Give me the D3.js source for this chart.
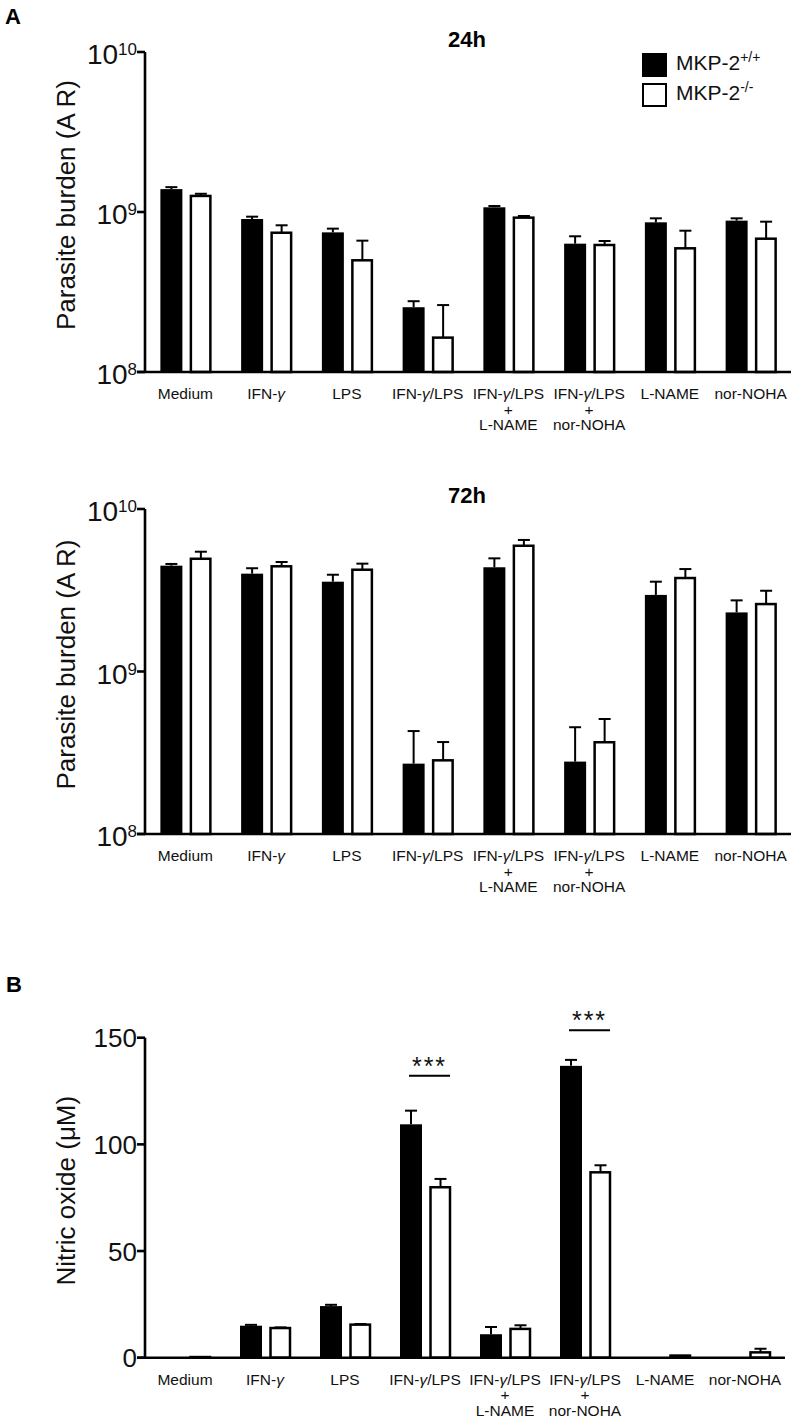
<!DOCTYPE html>
<html>
<head>
<meta charset="utf-8">
<script src="https://cdn.jsdelivr.net/npm/d3@7"></script>
<style>
  html, body { margin: 0; padding: 0; background: #fff; }
  svg { display: block; font-family: "Liberation Sans", Arial, sans-serif; }
</style>
</head>
<body>
<svg id="chart" width="799" height="1428"></svg>
<script>
// ---------- DATA ----------
const categories = ["Medium", "IFN-γ", "LPS", "IFN-γ/LPS", "IFN-γ/LPS + L-NAME", "IFN-γ/LPS + nor-NOHA", "L-NAME", "nor-NOHA"];
const categoryLines = [["Medium"], ["IFN-γ"], ["LPS"], ["IFN-γ/LPS"], ["IFN-γ/LPS", "+", "L-NAME"], ["IFN-γ/LPS", "+", "nor-NOHA"], ["L-NAME"], ["nor-NOHA"]];
const seriesNames = ["MKP-2", "MKP-2"];
const seriesSup = ["+/+", "-/-"];

// 24h parasite burden (mean, and upper end of error bar)
const wt24 = [1.39e9, 9.04e8, 7.46e8, 2.54e8, 1.07e9, 6.34e8, 8.62e8, 8.83e8];
const wt24Upper = [1.43e9, 9.35e8, 7.87e8, 2.77e8, 1.09e9, 7.05e8, 9.13e8, 9.13e8];
const ko24 = [1.26e9, 7.42e8, 4.99e8, 1.64e8, 9.22e8, 6.22e8, 5.93e8, 6.81e8];
const ko24Upper = [1.30e9, 8.26e8, 6.62e8, 2.62e8, 9.44e8, 6.59e8, 7.64e8, 8.70e8];

// 72h parasite burden
const wt72 = [4.48e9, 4.00e9, 3.57e9, 2.71e8, 4.38e9, 2.79e8, 2.96e9, 2.31e9];
const wt72Upper = [4.59e9, 4.32e9, 3.94e9, 4.30e8, 4.97e9, 4.54e8, 3.57e9, 2.74e9];
const ko72 = [4.94e9, 4.44e9, 4.23e9, 2.84e8, 5.94e9, 3.67e8, 3.76e9, 2.60e9];
const ko72Upper = [5.46e9, 4.72e9, 4.61e9, 3.68e8, 6.45e9, 5.10e8, 4.27e9, 3.14e9];

// Nitric oxide (µM)
const wtNO = [0, 15.0, 24.2, 109.4, 11.0, 136.8, 0, 0];
const wtNOUpper = [0, 15.4, 24.8, 115.8, 14.4, 139.6, 0, 0];
const koNO = [0.3, 13.9, 15.5, 79.9, 13.5, 86.9, 1.0, 2.5];
const koNOUpper = [0.3, 14.2, 15.8, 83.8, 15.2, 90.2, 1.0, 4.2];

const logTicks = [1e8, 1e9, 1e10];
const logTickExp = ["8", "9", "10"];
const linTicks = [0, 50, 100, 150];

// significance annotations: category, value level of the line
const sigCats = ["IFN-γ/LPS", "IFN-γ/LPS + nor-NOHA"];
const sigLevels = [132.2, 153.5];
const sigText = "***";

// ---------- DRAW ----------
const svg = d3.select("#chart");
const FONT = '"Liberation Sans", Arial, sans-serif';

function addLabelLine(tspanParent, text) {
  // italic gamma like the Symbol-font glyph in the original
  const parts = text.split("γ");
  parts.forEach((p, k) => {
    if (p) tspanParent.append("tspan").text(p);
    if (k < parts.length - 1) tspanParent.append("tspan").attr("font-style", "italic").text("γ");
  });
}

function drawPanel(opts) {
  const { x0, x1, yTop, yBot, yScale, wt, wtUp, ko, koUp, ticksFn, yTitle, titleText } = opts;
  const x = d3.scaleBand().domain(categories).range([x0, x1]).padding(0);
  const g = svg.append("g");
  const barW = 22;
  const cx = c => x(c) + x.bandwidth() / 2;
  const y0 = yScale.range()[0];

  const data = categories.map((c, i) => ({ c, wt: wt[i], wtUp: wtUp[i], ko: ko[i], koUp: koUp[i] }));
  const errs = [];
  data.forEach(d => {
    errs.push({ xc: cx(d.c) - 14, v: d.wt, up: d.wtUp });
    errs.push({ xc: cx(d.c) + 15.5, v: d.ko, up: d.koUp });
  });
  const eg = g.append("g").attr("stroke", "#000").attr("stroke-width", 2);
  errs.filter(e => e.up > e.v).forEach(e => {
    eg.append("line").attr("x1", e.xc).attr("x2", e.xc).attr("y1", yScale(e.v)).attr("y2", yScale(e.up));
    eg.append("line").attr("x1", e.xc - 6).attr("x2", e.xc + 6).attr("y1", yScale(e.up)).attr("y2", yScale(e.up));
  });

  g.append("g").selectAll("rect").data(data.filter(d => yScale(d.wt) < y0)).join("rect")
    .attr("x", d => cx(d.c) - 25)
    .attr("width", barW)
    .attr("y", d => yScale(d.wt))
    .attr("height", d => y0 - yScale(d.wt))
    .attr("fill", "#000");

  g.append("g").selectAll("rect").data(data.filter(d => yScale(d.ko) < y0)).join("rect")
    .attr("x", d => cx(d.c) + 5.5)
    .attr("width", barW - 2.5)
    .attr("y", d => yScale(d.ko))
    .attr("height", d => Math.max(0, y0 - yScale(d.ko)))
    .attr("fill", "#fff")
    .attr("stroke", "#000")
    .attr("stroke-width", 2.5);

  // y axis
  const axG = g.append("g").attr("transform", `translate(${x0},0)`);
  axG.append("line").attr("x1", 0).attr("x2", 0).attr("y1", yTop).attr("y2", yBot)
    .attr("stroke", "#000").attr("stroke-width", 2.6);
  ticksFn(axG);

  // x axis
  g.append("line").attr("x1", x0 - 8).attr("x2", x1).attr("y1", yBot).attr("y2", yBot)
    .attr("stroke", "#000").attr("stroke-width", 2.6);

  // category labels
  const lab = g.append("g").attr("font-family", FONT).attr("font-size", 15.5).attr("text-anchor", "middle").attr("fill", "#111");
  categories.forEach((c, i) => {
    categoryLines[i].forEach((ln, j) => {
      const t = lab.append("text").attr("x", cx(c)).attr("y", yBot + 27 + j * 15.5);
      addLabelLine(t, ln);
    });
  });

  // y title
  g.append("text").attr("transform", `translate(75,${(yTop + yBot) / 2 - 7}) rotate(-90)`)
    .attr("text-anchor", "middle").attr("font-family", FONT).attr("font-size", 26).attr("fill", "#111")
    .text(yTitle);

  if (titleText) {
    g.append("text").attr("x", 448).attr("y", titleText.y).attr("font-family", FONT)
      .attr("font-weight", "bold").attr("font-size", 22).attr("fill", "#000").text(titleText.t);
  }
  return { x, cx, g };
}

function logTickFn(yScale) {
  return axG => {
    logTicks.forEach((v, i) => {
      const yy = yScale(v);
      axG.append("line").attr("x1", -8).attr("x2", 0).attr("y1", yy).attr("y2", yy)
        .attr("stroke", "#000").attr("stroke-width", 2.6);
      const t = axG.append("text").attr("x", -8).attr("y", yy + 12).attr("text-anchor", "end")
        .attr("font-family", FONT).attr("fill", "#111");
      t.append("tspan").attr("font-size", 28).text("10");
      t.append("tspan").attr("font-size", 17).attr("dy", -9).text(logTickExp[i]);
    });
  };
}

// Panel A 24h
const y24 = d3.scaleLog().domain([1e8, 1e10]).range([372, 52]);
drawPanel({ x0: 145, x1: 791, yTop: 52, yBot: 372, yScale: y24, wt: wt24, wtUp: wt24Upper, ko: ko24, koUp: ko24Upper,
  ticksFn: logTickFn(y24), yTitle: "Parasite burden (A R)", titleText: { t: "24h", y: 47 } });

// Panel A 72h
const y72 = d3.scaleLog().domain([1e8, 1e10]).range([834, 509]);
drawPanel({ x0: 145, x1: 791, yTop: 509, yBot: 834, yScale: y72, wt: wt72, wtUp: wt72Upper, ko: ko72, koUp: ko72Upper,
  ticksFn: logTickFn(y72), yTitle: "Parasite burden (A R)", titleText: { t: "72h", y: 503 } });

// Panel B
const yNO = d3.scaleLinear().domain([0, 150]).range([1357.7, 1037.7]);
const pB = drawPanel({ x0: 145, x1: 785, yTop: 1037.7, yBot: 1357.7, yScale: yNO, wt: wtNO, wtUp: wtNOUpper, ko: koNO, koUp: koNOUpper,
  ticksFn: axG => {
    linTicks.forEach(v => {
      const yy = yNO(v);
      axG.append("line").attr("x1", -8).attr("x2", 0).attr("y1", yy).attr("y2", yy)
        .attr("stroke", "#000").attr("stroke-width", 2.6);
      axG.append("text").attr("x", -8).attr("y", yy + 9.5).attr("text-anchor", "end")
        .attr("font-family", FONT).attr("font-size", 26).attr("fill", "#111").text(v);
    });
  }, yTitle: "Nitric oxide (μM)", titleText: null });

// significance
sigCats.forEach((c, i) => {
  const xc = pB.cx(c);
  const yy = yNO(sigLevels[i]);
  svg.append("line").attr("x1", xc - 16).attr("x2", xc + 25).attr("y1", yy).attr("y2", yy)
    .attr("stroke", "#000").attr("stroke-width", 2);
  svg.append("text").attr("x", xc + 4.5).attr("y", yy - 1).attr("text-anchor", "middle")
    .attr("font-family", FONT).attr("font-size", 25).attr("letter-spacing", 2).attr("fill", "#111").text(sigText);
});

// Legend
const legY = [53, 83];
const legend = svg.append("g");
legY.forEach((yy, i) => {
  legend.append("rect").attr("x", i === 0 ? 642 : 643).attr("y", i === 0 ? yy : yy + 1)
    .attr("width", i === 0 ? 25 : 23).attr("height", i === 0 ? 24 : 22)
    .attr("fill", i === 0 ? "#000" : "#fff").attr("stroke", "#000").attr("stroke-width", i === 0 ? 0 : 2);
  const t = legend.append("text").attr("x", 676).attr("y", yy + 17).attr("font-family", FONT)
    .attr("font-size", 21).attr("fill", "#111");
  t.append("tspan").text(seriesNames[i]);
  t.append("tspan").attr("font-size", 14).attr("dy", -8).text(seriesSup[i]);
});

// Panel letters
svg.append("text").attr("x", 5).attr("y", 24).attr("font-family", FONT).attr("font-weight", "bold")
  .attr("font-size", 22).text("A");
svg.append("text").attr("x", 6).attr("y", 992).attr("font-family", FONT).attr("font-weight", "bold")
  .attr("font-size", 22).text("B");
</script>
</body>
</html>
